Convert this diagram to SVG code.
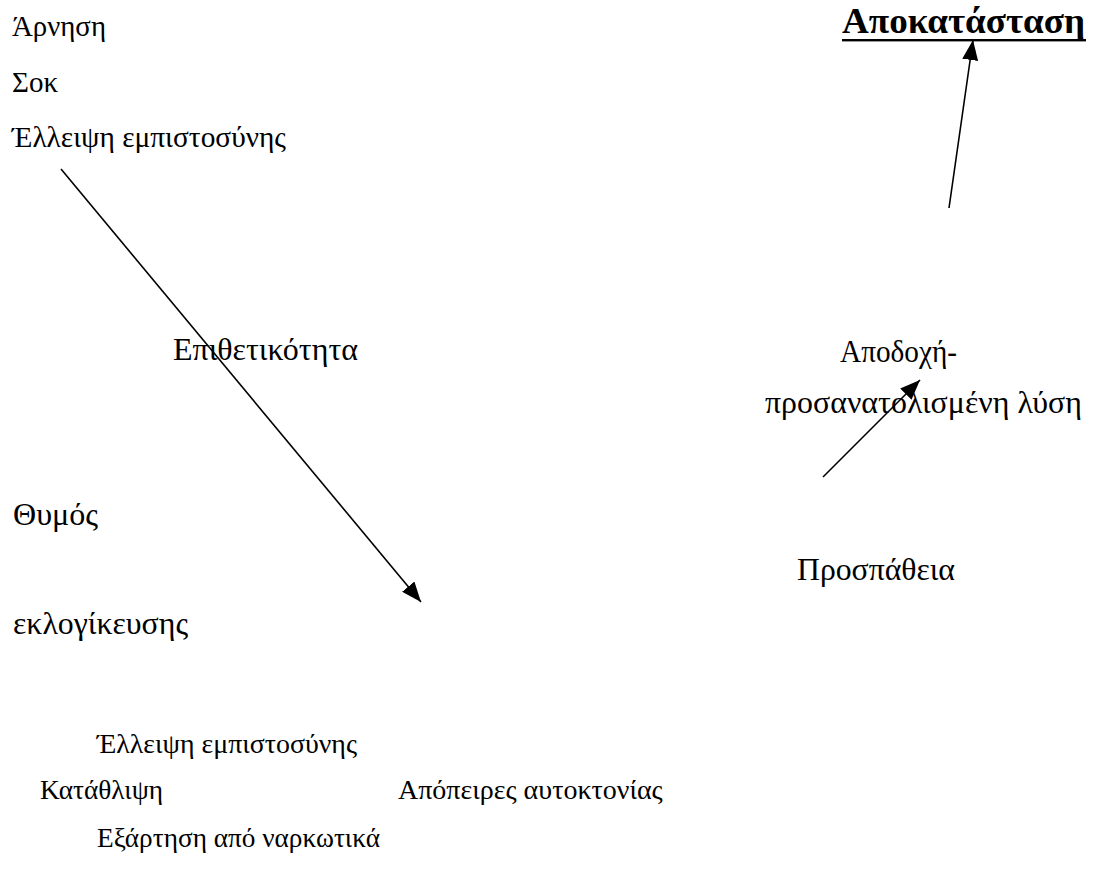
<svg xmlns="http://www.w3.org/2000/svg" width="1093" height="870" viewBox="0 0 1093 870">
<style>
text{font-family:"Liberation Serif","Times New Roman",serif;fill:#000}
.t{font-size:29px}
.m{font-size:31px}
.b{font-size:28px}
.title{font-size:36px;font-weight:bold}
.conn line{stroke:#000;stroke-width:1.6;fill:none}
</style>
<defs>
<marker id="ah" markerUnits="userSpaceOnUse" markerWidth="22" markerHeight="16" refX="20" refY="8" orient="auto">
<path d="M0,0 L20,8 L0,16 Z" fill="#000"/>
</marker>
</defs>
<rect width="1093" height="870" fill="#fff"/>
<g id="n-arnisi"><text class="t" x="12" y="36" textLength="94" lengthAdjust="spacingAndGlyphs">Άρνηση</text></g>
<g id="n-sok"><text class="t" x="12" y="92">Σοκ</text></g>
<g id="n-elleipsi1"><text class="t" x="12" y="147" textLength="274" lengthAdjust="spacingAndGlyphs">Έλλειψη εμπιστοσύνης</text></g>
<g id="n-apokatastasi"><text class="title" x="842" y="33" textLength="243" lengthAdjust="spacingAndGlyphs">Αποκατάσταση</text><rect x="842" y="39" width="244" height="2.4" fill="#000"/></g>
<g id="n-epithetikotita"><text class="m" x="173" y="360" textLength="185" lengthAdjust="spacingAndGlyphs">Επιθετικότητα</text></g>
<g id="n-apodochi"><text class="m" x="840" y="362" textLength="117" lengthAdjust="spacingAndGlyphs">Αποδοχή-</text><text class="m" x="765" y="413" textLength="317" lengthAdjust="spacingAndGlyphs">προσανατολισμένη λύση</text></g>
<g id="n-thymos"><text class="m" x="13" y="525" textLength="85" lengthAdjust="spacingAndGlyphs">Θυμός</text></g>
<g id="n-prospatheia"><text class="m" x="797" y="580" textLength="158" lengthAdjust="spacingAndGlyphs">Προσπάθεια</text></g>
<g id="n-eklogikeysis"><text class="m" x="13" y="634" textLength="175" lengthAdjust="spacingAndGlyphs">εκλογίκευσης</text></g>
<g id="n-elleipsi2"><text class="b" x="97" y="753" textLength="260" lengthAdjust="spacingAndGlyphs">Έλλειψη εμπιστοσύνης</text></g>
<g id="n-katathlipsi"><text class="b" x="40" y="799" textLength="123" lengthAdjust="spacingAndGlyphs">Κατάθλιψη</text></g>
<g id="n-apopeires"><text class="b" x="398" y="799">Απόπειρες αυτοκτονίας</text></g>
<g id="n-exartisi"><text class="b" x="97" y="847" textLength="283" lengthAdjust="spacingAndGlyphs">Εξάρτηση από ναρκωτικά</text></g>
<g class="conn" id="connectors">
<line x1="61" y1="169" x2="421" y2="602" marker-end="url(#ah)"/>
<line x1="949" y1="208" x2="973" y2="40" marker-end="url(#ah)"/>
<line x1="823" y1="477" x2="920" y2="380" marker-end="url(#ah)"/>
</g>
</svg>
